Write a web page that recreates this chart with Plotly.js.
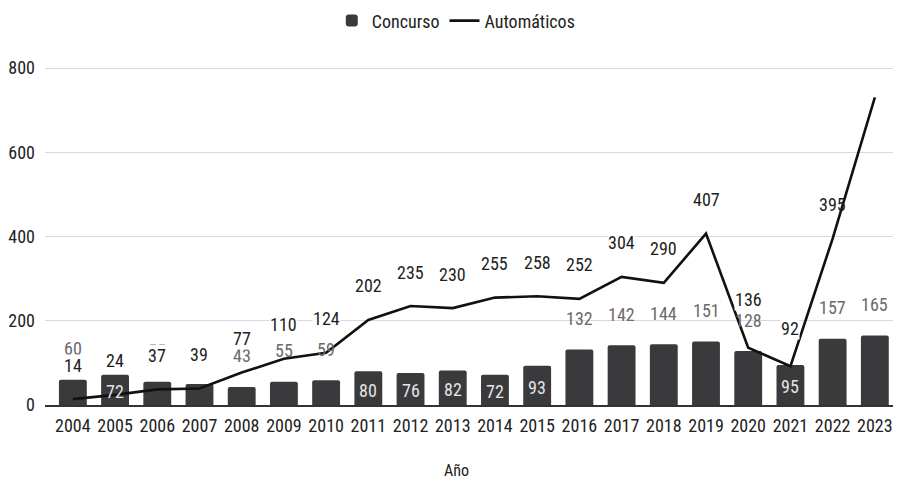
<!DOCTYPE html>
<html>
<head>
<meta charset="utf-8">
<script src="https://cdn.plot.ly/plotly-3.0.1.min.js"></script>
<style>html,body{margin:0;padding:0;background:#fff;}#chart{width:897px;height:483px;}</style>
</head>
<body>
<div id="chart"></div>
<script>
// ---- data ----
const years = ["2004","2005","2006","2007","2008","2009","2010","2011","2012","2013","2014","2015","2016","2017","2018","2019","2020","2021","2022","2023"];
const concurso = [60, 72, 55, 50, 43, 55, 59, 80, 76, 82, 72, 93, 132, 142, 144, 151, 128, 95, 157, 165];
const automaticos = [14, 24, 37, 39, 77, 110, 124, 202, 235, 230, 255, 258, 252, 304, 290, 407, 136, 92, 395, 730];
const automaticosLabels = ["14","24","37","39","77","110","124","202","235","230","255","258","252","304","290","407","136","92","395",""];
const xTitle = "Año";

// ---- styling / placement (not data) ----
const FONT = "Roboto Condensed, Liberation Sans Narrow, Arial Narrow, Roboto, sans-serif";
const insideBars = ["2005","2011","2012","2013","2014","2015","2021"];
const hiddenBarLabels = ["2007"];        // covered by the line label in the original
const noBgLineLabels = ["2022"];         // line runs through this label
const lineShift = {"2020": 48, "2021": 38};

const traces = [
  {
    type: "bar", name: "Concurso", x: years, y: concurso,
    marker: {color: "#3a3a3c", cornerradius: 2}
  },
  {
    type: "scatter", mode: "lines", name: "Automáticos", x: years, y: automaticos,
    line: {color: "#111111", width: 2.6}
  }
];

const anns = [];
for (let i = 0; i < years.length; i++) {
  const yr = years[i];
  if (hiddenBarLabels.indexOf(yr) >= 0) continue;
  if (insideBars.indexOf(yr) >= 0) {
    anns.push({x: i, y: concurso[i] / 2, xref: "x", yref: "y", text: String(concurso[i]), showarrow: false,
      font: {family: FONT, size: 18, color: "#e4e4e4"}, yshift: -2});
  } else {
    anns.push({x: i, y: concurso[i], xref: "x", yref: "y", text: String(concurso[i]), showarrow: false,
      font: {family: FONT, size: 18, color: "#6a6a6a"}, yshift: 31});
  }
}
for (let i = 0; i < years.length; i++) {
  const yr = years[i];
  if (!automaticosLabels[i]) continue;
  const a = {x: i, y: automaticos[i], xref: "x", yref: "y", text: automaticosLabels[i], showarrow: false,
    font: {family: FONT, size: 18, color: "#1e1e1e"}, borderpad: 0,
    yshift: lineShift[yr] || 34};
  if (noBgLineLabels.indexOf(yr) < 0) a.bgcolor = "#ffffff";
  anns.push(a);
}
anns.push({x: 0.485, y: -0.19, xref: "paper", yref: "paper", xanchor: "center", yanchor: "middle",
  text: xTitle, showarrow: false, font: {family: FONT, size: 16, color: "#222"}});

const layout = {
  width: 897, height: 483,
  margin: {l: 45, r: 4, t: 60, b: 78},
  paper_bgcolor: "#ffffff", plot_bgcolor: "#ffffff",
  font: {family: FONT, size: 18, color: "#222"},
  bargap: 0.34,
  showlegend: true,
  legend: {orientation: "h", x: 0.485, xanchor: "center", y: 0.995, yanchor: "top", yref: "container",
    font: {family: FONT, size: 18, color: "#222"}, traceorder: "normal"},
  xaxis: {
    type: "category", range: [-0.66, 19.43], showgrid: false, zeroline: false,
    showline: true, linecolor: "#333", linewidth: 1.5,
    ticks: "", ticklabelstandoff: 4, tickfont: {family: FONT, size: 18, color: "#222"}
  },
  yaxis: {
    range: [0, 819], tickvals: [0, 200, 400, 600, 800], showgrid: true,
    gridcolor: "#dcd5e4", gridwidth: 1, zeroline: false, showline: false,
    ticks: "", ticklabelstandoff: 9, tickfont: {family: FONT, size: 18, color: "#222"}
  },
  annotations: anns
};

Plotly.newPlot("chart", traces, layout, {displayModeBar: false, staticPlot: true});
</script>
</body>
</html>
